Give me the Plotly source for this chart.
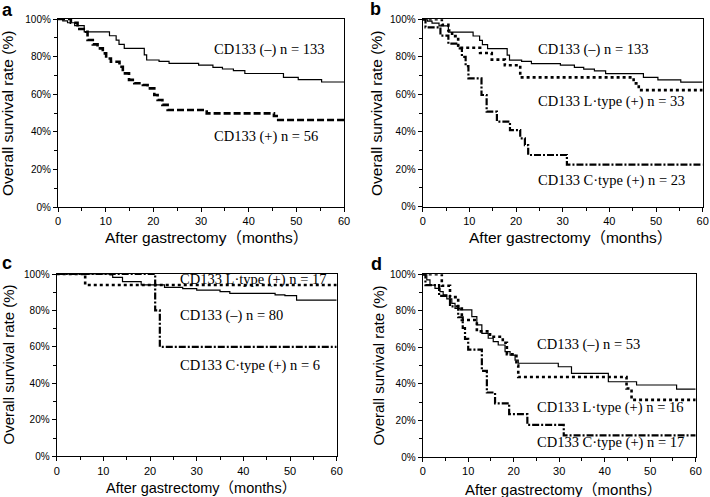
import plotly.graph_objects as go

# ---------------- data (months, survival %) ----------------
# Panel a / b : CD133 (-) n = 133
neg133_t = [0, 1, 2, 3.5, 5.5, 10.8, 12.2, 12.8, 13.9, 18.1, 18.6, 21.2, 23.3, 29.5, 32.5, 34.5, 36.8, 39.2, 47.3, 50.4, 55.3, 60]
neg133_s = [100, 99, 98, 96.5, 93.2, 91.1, 88.8, 86.5, 84.4, 80.9, 78.2, 77.5, 76.4, 75.5, 74.3, 73.4, 72.5, 71, 69, 67.7, 66.5, 66.5]
# Panel a : CD133 (+) n = 56
pos56_t = [0, 2.7, 4.1, 5.9, 6.2, 7.3, 8.3, 9.4, 10.1, 11.1, 12.9, 13.6, 14.9, 16.0, 17.8, 18.8, 20.2, 20.9, 21.9, 23.0, 31.2, 45.3, 46.2, 60]
pos56_s = [100, 98, 94.7, 93.2, 88.8, 86.5, 84.4, 81.7, 79, 77.3, 74.6, 71.1, 67.6, 65.8, 64.9, 63.1, 59.6, 56.9, 54.3, 51.6, 49.8, 48.4, 46.3, 46.3]
# Panel b : CD133 L-type (+) n = 33
l33_t = [0, 4.1, 5.5, 6.3, 7.6, 12.3, 14.8, 17.6, 20.9, 45.2, 46.3, 60]
l33_s = [100, 97, 94, 91, 84.8, 82, 78.5, 75.5, 69, 65.8, 62.2, 62.2]
# Panel b : CD133 C-type (+) n = 23
c23_t = [0, 0.6, 3.8, 5.5, 7.6, 8.4, 9.2, 9.8, 12.6, 13.7, 15.9, 18.7, 20.9, 21.9, 22.6, 30.9, 60]
c23_s = [100, 95.7, 91.3, 87, 84.5, 80, 75, 68.5, 59.6, 50.7, 45.4, 40.9, 36.5, 32.9, 27.6, 22.5, 22.5]
# Panel c
neg80_t = [0, 11.4, 12.0, 14.1, 18.1, 23.1, 27, 30, 35, 37.1, 46.8, 48.9, 51.4, 60]
neg80_s = [100, 99.5, 98.2, 95.8, 94, 92.7, 92, 91.2, 90.3, 89.4, 88.5, 88.1, 85.7, 85.7]
l17_t = [0, 6.1, 60]
l17_s = [100, 94, 94]
c6_t = [0, 21.1, 22.1, 60]
c6_s = [100, 80, 60, 60]
# Panel d
neg53_t = [0, 0.9, 1.6, 2.7, 3.8, 4.5, 5.3, 6.4, 7.1, 8.2, 10.8, 11.9, 13.0, 14.4, 15.5, 16.6, 18.1, 19.2, 20.3, 21.0, 29.8, 32.7, 40.8, 47.0, 55.8, 60]
neg53_s = [100, 96.9, 94.1, 92.3, 90.5, 88.7, 86.5, 84.1, 81.4, 80.5, 76.8, 72.3, 67.7, 65.0, 63.1, 61.3, 57.7, 55.8, 53.0, 51.3, 49.4, 45.8, 41.2, 39.4, 37.1, 37.1]
l16_t = [0, 4.2, 6.0, 7.8, 8.6, 11.9, 14.8, 17.6, 18.5, 20.6, 21.0, 44.8, 45.9, 60]
l16_s = [100, 93.75, 87.5, 81.25, 75, 68.75, 65.8, 62.5, 56.25, 50, 43.75, 37.5, 31.25, 31.25]
c17_t = [0, 0.6, 3.6, 6.0, 7.8, 8.8, 9.3, 10.0, 13.0, 14.1, 15.9, 19.0, 23.0, 31.0, 60]
c17_s = [100, 94.1, 88.2, 82.4, 76.5, 70.6, 64.7, 58.8, 47.1, 35.3, 29.4, 23.5, 17.6, 11.8, 11.8]

panel_letters = ["a", "b", "c", "d"]
x_ticks = [0, 10, 20, 30, 40, 50, 60]
y_ticks = [0, 20, 40, 60, 80, 100]
y_ticktext = ["0%", "20%", "40%", "60%", "80%", "100%"]
x_title = "After gastrectomy（months）"
y_title = "Overall survival rate (%)"

# ---------------- layout geometry ----------------
W, H = 710, 497
def px_x(v): return v / W
def px_y(v): return 1 - v / H

panels = [
    dict(x=(58, 344), y=(19, 207)),
    dict(x=(422.7, 702.7), y=(19.3, 206.7)),
    dict(x=(56.7, 336.7), y=(274, 456.3)),
    dict(x=(422.7, 695.7), y=(274.3, 457)),
]

SOLID = dict(color="black", width=1.2)
DASH = dict(color="black", width=2.6, dash="7px,3px")
DOT = dict(color="black", width=2.6, dash="3px,3px")
DASHDOT = dict(color="black", width=2.2, dash="7px,2px,2px,2px")

series = [
    [(neg133_t, neg133_s, SOLID), (pos56_t, pos56_s, DASH)],
    [(neg133_t, neg133_s, SOLID), (l33_t, l33_s, DOT), (c23_t, c23_s, DASHDOT)],
    [(neg80_t, neg80_s, SOLID), (l17_t, l17_s, DOT), (c6_t, c6_s, DASHDOT)],
    [(neg53_t, neg53_s, SOLID), (l16_t, l16_s, DOT), (c17_t, c17_s, DASHDOT)],
]

labels = [
    [("CD133 (–) n = 133", 32.3, 84), ("CD133 (+) n = 56", 32.3, 37.4)],
    [("CD133 (–) n = 133", 24.3, 84), ("CD133 L·type (+) n = 33", 24.3, 56.4), ("CD133 C·type (+) n = 23", 24.3, 14.2)],
    [("CD133 L·type (+) n = 17", 26, 97), ("CD133 (–) n = 80", 26, 77.5), ("CD133 C·type (+) n = 6", 26, 50)],
    [("CD133 (–) n = 53", 24.7, 61.8), ("CD133 L·type (+) n = 16", 24.7, 27), ("CD133 C·type (+) n = 17", 24.7, 8)],
]

xtitle_pos = [(206.5, 237, 15.5), (570.8, 237, 15.5), (201.3, 487.5, 14.5), (563.3, 489, 15)]
ytitle_pos = [(8, 114, 15.5), (376.7, 113.3, 15.5), (7.5, 365, 15), (377.5, 365, 15)]
letter_pos = [(7.5, 10), (375.5, 9.5), (6.7, 263), (376.7, 264)]

fig = go.Figure()
annotations = []
SANS = "Liberation Sans, Arial, Noto Sans CJK JP, sans-serif"
SERIF = "Liberation Serif, Times New Roman, serif"

for i, p in enumerate(panels):
    n = i + 1
    xa = "xaxis" if n == 1 else f"xaxis{n}"
    ya = "yaxis" if n == 1 else f"yaxis{n}"
    xr = "x" if n == 1 else f"x{n}"
    yr = "y" if n == 1 else f"y{n}"
    fig.update_layout({
        xa: dict(domain=[px_x(p["x"][0]), px_x(p["x"][1])], anchor=yr, range=[0, 60],
                 tickmode="array", tickvals=x_ticks, ticks="outside", ticklen=4, tickwidth=1, tickcolor="black",
                 showline=True, linecolor="black", linewidth=1.2, mirror=True,
                 showgrid=False, zeroline=False, automargin=False,
                 minor=dict(dtick=5, ticks="outside", ticklen=3, tickcolor="black", showgrid=False),
                 tickfont=dict(family=SANS, size=11, color="black"), fixedrange=True),
        ya: dict(domain=[px_y(p["y"][1]), px_y(p["y"][0])], anchor=xr, range=[0, 100],
                 tickmode="array", tickvals=y_ticks, ticktext=y_ticktext,
                 ticks="outside", ticklen=4, tickwidth=1, tickcolor="black",
                 showline=True, linecolor="black", linewidth=1.2, mirror=True,
                 showgrid=False, zeroline=False, automargin=False,
                 minor=dict(dtick=10, ticks="outside", ticklen=3, tickcolor="black", showgrid=False),
                 tickfont=dict(family=SANS, size=10, color="black"), fixedrange=True),
    })
    for t, s, ln in series[i]:
        fig.add_trace(go.Scatter(x=t, y=s, mode="lines", line=dict(shape="hv", **ln),
                                 xaxis=xr, yaxis=yr, showlegend=False, hoverinfo="skip"))
    for txt, lx, ly in labels[i]:
        annotations.append(dict(text=txt, x=lx, y=ly, xref=xr, yref=yr, xanchor="left", yanchor="middle",
                                showarrow=False, font=dict(family=SERIF, size=14.5, color="black")))
    tx, ty, ts = xtitle_pos[i]
    annotations.append(dict(text=x_title, x=px_x(tx), y=px_y(ty), xref="paper", yref="paper",
                            xanchor="center", yanchor="middle", showarrow=False,
                            font=dict(family=SANS, size=ts, color="black")))
    yx, yy, ys = ytitle_pos[i]
    annotations.append(dict(text=y_title, x=px_x(yx), y=px_y(yy), xref="paper", yref="paper",
                            xanchor="center", yanchor="middle", showarrow=False, textangle=-90,
                            font=dict(family=SANS, size=ys, color="black")))
    lx, ly = letter_pos[i]
    annotations.append(dict(text="<b>" + panel_letters[i] + "</b>", x=px_x(lx), y=px_y(ly), xref="paper", yref="paper",
                            xanchor="center", yanchor="middle", showarrow=False,
                            font=dict(family=SANS, size=18, color="black")))

fig.update_layout(width=W, height=H, autosize=False, margin=dict(l=0, r=0, t=0, b=0, pad=0),
                  paper_bgcolor="white", plot_bgcolor="white", annotations=annotations,
                  showlegend=False)

fig.write_html("out.html", config={"displayModeBar": False},
               post_script="document.body.style.margin='0';document.body.style.overflow='hidden';")
